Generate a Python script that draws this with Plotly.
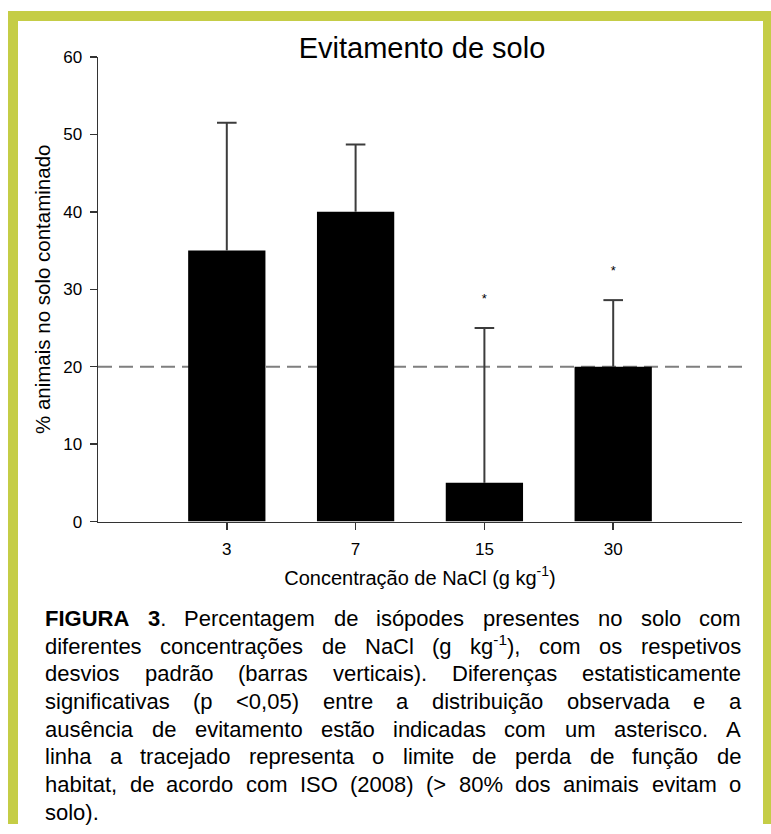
import re
import unicodedata
import plotly.graph_objects as go

# ---------------- data ----------------
categories = ["3", "7", "15", "30"]
means = [35, 40, 5, 20]
sd_upper = [16.5, 8.7, 20.0, 8.6]
significant = [False, False, True, True]
threshold = 20
y_ticks = [0, 10, 20, 30, 40, 50, 60]

title_text = "Evitamento de solo"
x_title = "Concentração de NaCl (g kg<sup>-1</sup>)"
y_title = "% animais no solo contaminado"

caption_lines = [
    "<b>FIGURA</b> <b>3</b>. Percentagem de isópodes presentes no solo com",
    "diferentes concentrações de NaCl (g kg<sup>-1</sup>), com os respetivos",
    "desvios padrão (barras verticais). Diferenças estatisticamente",
    "significativas (p <0,05) entre a distribuição observada e a",
    "ausência de evitamento estão indicadas com um asterisco. A",
    "linha a tracejado representa o limite de perda de função de",
    "habitat, de acordo com ISO (2008) (> 80% dos animais evitam o",
    "solo).",
]

# ---------------- layout helpers ----------------
W, H = 771, 834
FONT = "Liberation Sans, Arial, sans-serif"
BORDER = "#c5cd46"
ERR_COLOR = "#3c3c3c"


def px(x):
    return x / W


def py(y):
    return 1 - y / H


def yc(y):
    # vertical calibration of the rendered page
    return (y - 8) / 0.978


# Arial / Liberation Sans advance widths (1/1000 em)
REG = {" ": 278, "%": 889, "(": 333, ")": 333, ",": 278, "-": 333, ".": 278,
       "<": 584, ">": 584, "*": 389}
for d in "0123456789":
    REG[d] = 556
REG.update(dict(zip("ABCDEFGHIJKLMNOPQRSTUVWXYZ",
                    [667, 667, 722, 722, 667, 611, 778, 722, 278, 500, 667, 556, 833,
                     722, 778, 667, 778, 722, 667, 611, 722, 667, 944, 667, 667, 611])))
REG.update(dict(zip("abcdefghijklmnopqrstuvwxyz",
                    [556, 556, 500, 556, 556, 278, 556, 556, 222, 222, 500, 222, 833,
                     556, 556, 556, 556, 333, 500, 278, 556, 500, 722, 500, 500, 500])))
BOLD = dict(REG)
BOLD.update({"A": 722, "F": 611, "G": 778, "I": 278, "R": 722, "U": 722})


def text_width(s, fs):
    total = 0.0
    bold = False
    sup = False
    for tok in re.split(r"(</?b>|</?sup>)", s):
        if tok == "<b>":
            bold = True
            continue
        if tok == "</b>":
            bold = False
            continue
        if tok == "<sup>":
            sup = True
            continue
        if tok == "</sup>":
            sup = False
            continue
        for ch in tok:
            base = unicodedata.normalize("NFD", ch)[0]
            w = (BOLD if bold else REG).get(base, 556)
            total += w * (0.7 if sup else 1.0)
    return total / 1000.0 * fs


# ---------------- figure ----------------
fig = go.Figure()

fig.add_trace(go.Bar(
    x=categories,
    y=means,
    width=0.6,
    marker=dict(color="black", line=dict(width=0)),
    showlegend=False,
    hoverinfo="x+y",
))

# upper-only error bars: stem from bar top to mean + sd, with a cap
stem_x, stem_y = [], []
for c, m, e in zip(categories, means, sd_upper):
    stem_x += [c, c, None]
    stem_y += [m, m + e, None]
fig.add_trace(go.Scatter(
    x=stem_x, y=stem_y, mode="lines",
    line=dict(color=ERR_COLOR, width=2),
    showlegend=False, hoverinfo="skip",
))
fig.add_trace(go.Scatter(
    x=categories, y=[m + e for m, e in zip(means, sd_upper)], mode="markers",
    marker=dict(symbol="line-ew", size=14, line=dict(color=ERR_COLOR, width=2)),
    showlegend=False, hoverinfo="skip",
))

star_x = [c for c, s in zip(categories, significant) if s]
star_y = [m + e + 3.6 for m, e, s in zip(means, sd_upper, significant) if s]
fig.add_trace(go.Scatter(
    x=star_x, y=star_y, mode="text", text=["*"] * len(star_x),
    textposition="middle center",
    textfont=dict(family=FONT, size=13, color="black"),
    showlegend=False, hoverinfo="skip",
))

shapes = [
    # threshold dashed line (below bars)
    dict(type="line", xref="x domain", yref="y", x0=0, x1=1,
         y0=threshold, y1=threshold, layer="below",
         line=dict(color="#7f7f7f", width=2, dash="14px,7px")),
    # decorative frame
    dict(type="rect", xref="paper", yref="paper", x0=px(8), x1=1.0,
         y0=py(yc(20)), y1=py(yc(10)), fillcolor=BORDER, line=dict(width=0),
         layer="below"),
    dict(type="rect", xref="paper", yref="paper", x0=px(8), x1=px(18),
         y0=0, y1=py(yc(10)), fillcolor=BORDER, line=dict(width=0), layer="below"),
    dict(type="rect", xref="paper", yref="paper", x0=px(763), x1=1.0,
         y0=0, y1=py(yc(10)), fillcolor=BORDER, line=dict(width=0), layer="below"),
]

# ---------------- justified caption ----------------
CAP_FS = 22
LEFT, RIGHT = 45, 741
BASE0, PITCH = 632, 28.3
annotations = []
for i, line in enumerate(caption_lines):
    words = line.split(" ")
    widths = [text_width(w, CAP_FS) for w in words]
    last = i == len(caption_lines) - 1
    if last or len(words) == 1:
        gap = text_width(" ", CAP_FS)
    else:
        gap = (RIGHT - LEFT - sum(widths)) / (len(words) - 1)
    x = LEFT
    baseline = BASE0 + i * PITCH
    for w, wd in zip(words, widths):
        annotations.append(dict(
            xref="paper", yref="paper", x=px(x), y=py(baseline + 0.212 * CAP_FS),
            xanchor="left", yanchor="bottom", text=w, showarrow=False,
            borderpad=0, borderwidth=0,
            font=dict(family=FONT, size=CAP_FS, color="black"),
        ))
        x += wd + gap

axis_color = "#333333"
fig.update_layout(
    width=W, height=H,
    margin=dict(l=0, r=0, t=0, b=0),
    paper_bgcolor="white", plot_bgcolor="white",
    font=dict(family=FONT, color="black"),
    title=dict(text=title_text, x=px(422), xanchor="center",
               y=py(48), yanchor="middle",
               font=dict(family=FONT, size=29, color="black")),
    xaxis=dict(
        domain=[px(98), px(742)],
        type="category", range=[-1, 4],
        showline=True, linecolor=axis_color, linewidth=1.5,
        ticks="outside", ticklen=7, tickwidth=1.5, tickcolor=axis_color,
        showgrid=False, zeroline=False,
        tickfont=dict(family=FONT, size=17, color="black"),
        ticklabelstandoff=5,
        title=dict(text=x_title, standoff=12,
                   font=dict(family=FONT, size=20, color="black")),
        fixedrange=True,
    ),
    yaxis=dict(
        domain=[py(yc(521)), py(yc(56))],
        range=[0, 60], tickvals=y_ticks,
        showline=True, linecolor=axis_color, linewidth=1.5,
        ticks="outside", ticklen=7, tickwidth=1.5, tickcolor=axis_color,
        showgrid=False, zeroline=False,
        tickfont=dict(family=FONT, size=17, color="black"),
        ticklabelstandoff=4,
        title=dict(text=y_title, standoff=7,
                   font=dict(family=FONT, size=20.5, color="black")),
        fixedrange=True,
    ),
    shapes=shapes,
    annotations=annotations,
    bargap=0.4,
)

fig.write_html(
    "out.html",
    config={"displayModeBar": False, "staticPlot": True},
    post_script=(
        "document.documentElement.style.margin='0';"
        "document.body.style.margin='0';"
        "document.body.style.overflow='hidden';"
        "var d=document.getElementById('{plot_id}');"
        "d.style.position='fixed';d.style.left='0px';d.style.top='0px';"
    ),
)
